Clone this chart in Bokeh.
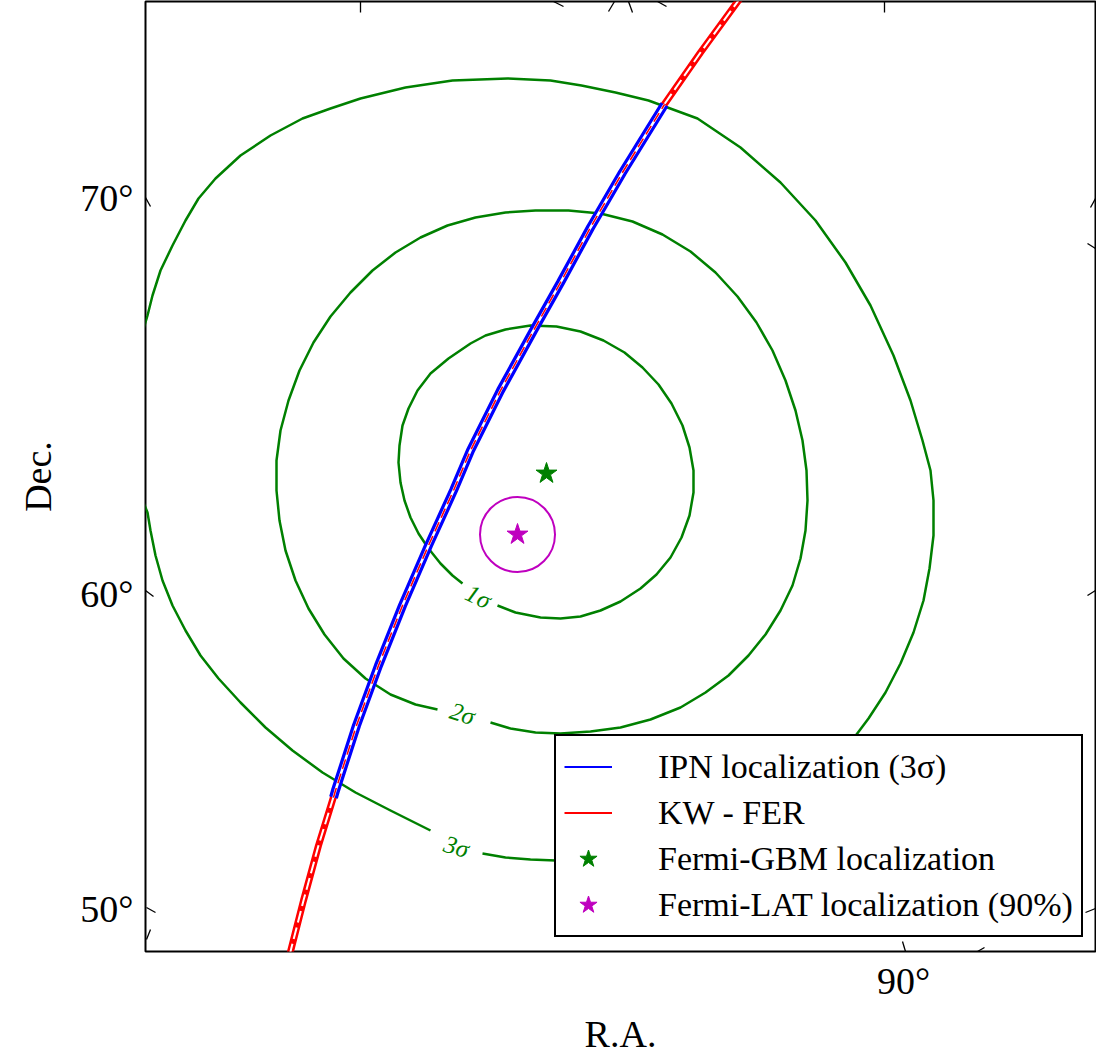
from bokeh.plotting import figure
from bokeh.models import Range1d, FixedTicker, Legend, LegendItem
from bokeh.core.properties import value
from bokeh.embed import file_html
from bokeh.resources import INLINE

# ---- data: projection-plane coordinates (plane pixels, y grows downward) ----
# KW - FER annulus centre line (full length)
kw_x = [289, 303, 318, 335, 356, 378, 402, 428, 453, 470, 500, 533, 560, 590, 622, 663, 700, 738, 746]
kw_y = [955, 900, 845, 790, 725, 665, 605, 545, 490, 450, 390, 330, 282, 227, 172, 105, 52, 0, -10]
# IPN 3-sigma arc
ipn_x = [333, 335, 356, 378, 402, 428, 453, 470, 500, 533, 560, 590, 622, 664]
ipn_y = [797, 790, 725, 665, 605, 545, 490, 450, 390, 330, 282, 227, 172, 104]

# Fermi-GBM contours (1, 2, 3 sigma)
s1_x = [497, 515, 540, 560, 580, 600, 620, 640, 656, 670, 681, 689, 693, 693, 689, 682, 671, 658, 642, 624, 603, 580, 556, 530, 505, 485, 470, 448, 430, 417, 408, 402, 399, 398, 400, 404, 410, 418, 428, 440, 452, 462]
s1_y = [605, 612, 617, 618, 616, 610, 601, 588, 574, 557, 537, 515, 492, 470, 447, 425, 403, 384, 367, 352, 340, 331, 326, 325, 329, 335, 343, 358, 373, 390, 408, 425, 445, 462, 482, 500, 517, 533, 548, 563, 575, 583]
s2_x = [490, 510, 535, 560, 590, 620, 650, 680, 705, 728, 748, 765, 780, 792, 800, 805, 807, 806, 802, 795, 785, 772, 756, 737, 715, 690, 662, 632, 600, 568, 535, 505, 475, 447, 420, 395, 372, 350, 330, 313, 299, 288, 280, 276, 276, 279, 285, 295, 308, 324, 343, 365, 390, 415, 437]
s2_y = [722, 728, 732, 733, 731, 727, 719, 707, 692, 675, 655, 634, 610, 585, 558, 530, 500, 470, 440, 410, 380, 350, 322, 296, 272, 251, 234, 221, 213, 210, 210, 212, 217, 225, 237, 252, 270, 292, 316, 342, 370, 400, 430, 460, 490, 520, 550, 580, 608, 634, 658, 678, 694, 704, 709]
s3a_x = [482, 505, 530, 555, 600, 650, 700, 750, 795, 830, 850, 868, 885, 900, 913, 923, 929, 933, 933, 930, 922, 910, 893, 870, 845, 815, 780, 740, 697, 648, 615, 581, 550, 507, 452, 405, 360, 330, 302, 270, 240, 215, 198, 185, 172, 160, 152, 147, 138]
s3a_y = [853, 857, 859, 860, 858, 851, 840, 822, 795, 765, 742, 718, 692, 663, 632, 600, 568, 535, 500, 470, 440, 400, 355, 305, 262, 220, 182, 147, 118, 100, 92, 85, 80, 78, 80, 87, 98, 108, 118, 135, 155, 178, 198, 220, 245, 270, 295, 315, 345]
s3b_x = [138, 147, 150, 155, 162, 172, 185, 200, 218, 240, 265, 292, 322, 355, 390, 430]
s3b_y = [490, 512, 530, 555, 580, 605, 630, 655, 678, 702, 727, 750, 772, 792, 810, 830]

sig_lab_x = [478, 462, 456]
sig_lab_y = [596, 713, 846]
sig_lab_txt = ["1σ", "2σ", "3σ"]
sig_lab_ang = [-0.45, -0.30, -0.28]

gbm_x, gbm_y = [546], [473]
lat_x, lat_y = [517], [534]
lat_r = 37.5

# tick labels
dec_tick_pos = [197, 593, 908]
dec_tick_lab = ["70°", "60°", "50°"]
ra_tick_pos = [903]
ra_tick_lab = ["90°"]

# curvilinear tick marks (edge point -> inner point)
tk_x0 = [145, 145, 146, 146, 1095, 1095, 1095, 1095, 905, 977, 360, 553, 614, 628, 657, 884]
tk_y0 = [197, 590, 907, 939, 198, 248, 590, 908, 951, 951, 1, 1, 1, 1, 1, 1]
tk_x1 = [150, 153, 155, 150, 1090, 1087, 1087, 1085, 902, 984, 360, 563, 608, 632, 666, 884]
tk_y1 = [206, 596, 912, 929, 207, 243, 595, 912, 941, 947, 12, 6, 11, 12, 6, 12]

SERIF = "Liberation Serif"
GREEN = "#008000"
MAG = "#bf00bf"

p = figure(width=1096, height=1057, output_backend="svg", toolbar_location=None,
           x_range=Range1d(145, 1095), y_range=Range1d(951, 1),
           min_border_left=145, min_border_right=1, min_border_top=1, min_border_bottom=106)
p.grid.visible = False
p.outline_line_color = "black"
p.outline_line_width = 2
p.outline_line_alpha = 1
p.background_fill_color = "white"

# axes
for ax in (p.xaxis[0], p.yaxis[0]):
    ax.axis_line_color = None
    ax.major_tick_in = 0
    ax.major_tick_out = 0
    ax.minor_tick_line_color = None
    ax.major_label_text_font = SERIF
    ax.major_label_text_font_size = "38px"
    ax.axis_label_text_font = SERIF
    ax.axis_label_text_font_size = "38px"
    ax.axis_label_text_font_style = "normal"
    ax.major_label_text_color = "black"
    ax.axis_label_text_color = "black"

p.yaxis[0].ticker = FixedTicker(ticks=dec_tick_pos)
p.yaxis[0].major_label_overrides = {t: l for t, l in zip(dec_tick_pos, dec_tick_lab)}
p.yaxis[0].major_label_orientation = "horizontal"
p.yaxis[0].major_label_standoff = 12
p.yaxis[0].axis_label = "Dec."
p.yaxis[0].axis_label_standoff = 18

p.xaxis[0].ticker = FixedTicker(ticks=ra_tick_pos)
p.xaxis[0].major_label_overrides = {t: l for t, l in zip(ra_tick_pos, ra_tick_lab)}
p.xaxis[0].major_label_standoff = 8
p.xaxis[0].axis_label = "R.A."
p.xaxis[0].axis_label_standoff = 8

# tick marks
p.segment(x0=tk_x0, y0=tk_y0, x1=tk_x1, y1=tk_y1, line_color="black", line_width=1.3)

# GBM contours
for cx, cy in ((s1_x, s1_y), (s2_x, s2_y), (s3a_x, s3a_y), (s3b_x, s3b_y)):
    p.line(cx, cy, line_color=GREEN, line_width=2.5, line_join="round")
p.text(x=sig_lab_x, y=sig_lab_y, text=sig_lab_txt, angle=sig_lab_ang,
       text_font=value(SERIF), text_font_style="italic", text_font_size="25px",
       text_color=GREEN, text_align="center", text_baseline="middle")

# KW-FER band
p.line(kw_x, kw_y, line_color="red", line_width=7)
p.line(kw_x, kw_y, line_color="white", line_width=2, line_dash="12 5")
# IPN band
p.line(ipn_x, ipn_y, line_color="blue", line_width=9)
p.line(ipn_x, ipn_y, line_color="white", line_width=2.5)
p.line(ipn_x, ipn_y, line_color="red", line_width=1.5, line_dash="10 5")

# LAT circle and stars
p.circle(x=lat_x, y=lat_y, radius=lat_r, fill_color=None, line_color=MAG, line_width=2)
r_gbm = p.scatter(gbm_x, gbm_y, marker="star", size=22, color=GREEN)
r_lat = p.scatter(lat_x, lat_y, marker="star", size=22, color=MAG)

# legend proxies (single point lines draw nothing on the plot)
r_ipn = p.line(ipn_x[:1], ipn_y[:1], line_color="blue", line_width=2)
r_kw = p.line(kw_x[:1], kw_y[:1], line_color="red", line_width=2)

legend = Legend(items=[
    LegendItem(label="IPN localization (3σ)", renderers=[r_ipn]),
    LegendItem(label="KW - FER", renderers=[r_kw]),
    LegendItem(label="Fermi-GBM localization", renderers=[r_gbm]),
    LegendItem(label="Fermi-LAT localization (90%)", renderers=[r_lat]),
], location=(409, 14))
legend.label_text_font = SERIF
legend.label_text_font_size = "34px"
legend.label_text_color = "black"
legend.border_line_color = "black"
legend.border_line_alpha = 1
legend.border_line_width = 2
legend.background_fill_alpha = 1
legend.padding = 8
legend.spacing = 1
legend.glyph_width = 48
legend.glyph_height = 45
legend.label_height = 45
legend.label_standoff = 46
legend.margin = 0
p.add_layout(legend, "center")

open("out.html", "w").write(file_html(p, INLINE))
